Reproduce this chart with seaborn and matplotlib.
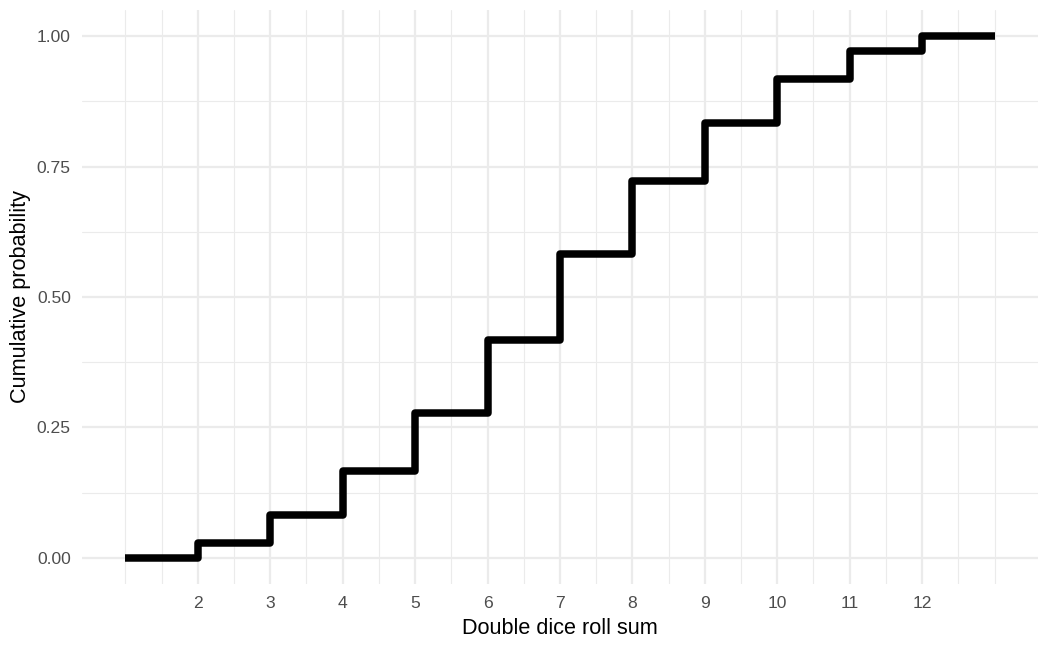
import numpy as np
import pandas as pd
import seaborn as sns
import matplotlib.pyplot as plt
import matplotlib.ticker as ticker

# cumulative probability (step starts at each roll sum)
roll_sum = [1, 2, 3, 4, 5, 6, 7, 8, 9, 10, 11, 12, 13]
cum_prob = [0.0, 0.028, 0.083, 0.167, 0.278, 0.417, 0.583, 0.722, 0.833, 0.917, 0.972, 1.0, 1.0]
x_ticks = [2, 3, 4, 5, 6, 7, 8, 9, 10, 11, 12]
y_ticks = [0.0, 0.25, 0.50, 0.75, 1.00]

df = pd.DataFrame({"sum": roll_sum, "p": cum_prob})

sns.set_theme(style="white")
plt.rcParams['font.family'] = ['Liberation Sans', 'DejaVu Sans']

fig = plt.figure(figsize=(10.5, 6.48), dpi=100)
ax = fig.add_axes([0.078, 0.0988, 0.9106, 0.8858])

sns.lineplot(data=df, x="sum", y="p", ax=ax, color="black", linewidth=5.4,
             drawstyle="steps-post", solid_joinstyle="round", solid_capstyle="butt")

ax.set_xlim(0.4, 13.6)
ax.set_ylim(-0.05, 1.05)
ax.set_xticks(x_ticks)
ax.set_xticklabels([str(t) for t in x_ticks])
ax.set_yticks(y_ticks)
ax.set_yticklabels(["%.2f" % t for t in y_ticks])
ax.xaxis.set_minor_locator(ticker.FixedLocator([1, 1.5] + [t + 0.5 for t in x_ticks] + [13]))
ax.yaxis.set_minor_locator(ticker.FixedLocator([0.125, 0.375, 0.625, 0.875]))

ax.grid(True, which="major", color="#EBEBEB", linewidth=1.6)
ax.grid(True, which="minor", color="#EBEBEB", linewidth=0.8)
ax.set_axisbelow(True)
for s in ax.spines.values():
    s.set_visible(False)
ax.tick_params(which="both", length=0)
ax.tick_params(axis="both", labelsize=12.6, labelcolor="#4D4D4D")
ax.tick_params(axis="x", pad=9)
ax.tick_params(axis="y", pad=8)

ax.set_xlabel("Double dice roll sum", fontsize=15.6, color="black", labelpad=5)
ax.set_ylabel("Cumulative probability", fontsize=15.6, color="black", labelpad=4)

fig.savefig("out.png", dpi=100)
